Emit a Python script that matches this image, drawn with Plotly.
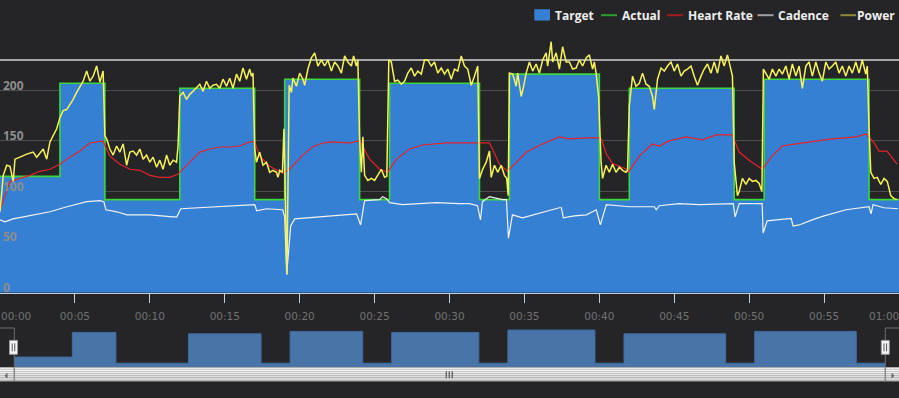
import plotly.graph_objects as go

W, H = 899, 398

# ---------------- data ----------------
series_names = ["Target", "Actual", "Heart Rate", "Cadence", "Power"]

target_sec = [0, 240, 420, 720, 1020, 1140, 1440, 1560, 1920, 2040, 2400, 2520, 2940, 3060, 3480, 3600]
target_watts = [115, 207, 92, 202, 92, 211, 92, 207, 92, 216, 92, 202, 92, 211, 92, 92]

hr_sec = [0, 40, 120, 160, 200, 240, 280, 320, 360, 400, 412, 440, 480, 520, 560, 600, 640, 680, 712,
          760, 800, 840, 880, 920, 960, 1000, 1020, 1040, 1080, 1133, 1160, 1212, 1252, 1280, 1320, 1400,
          1440, 1480, 1520, 1552, 1588, 1640, 1692, 1788, 1960, 1972, 2000, 2032, 2068, 2108, 2172, 2240,
          2280, 2348, 2400, 2408, 2428, 2452, 2480, 2508, 2516, 2560, 2612, 2640, 2680, 2748, 2812, 2868,
          2932, 2960, 3000, 3052, 3092, 3132, 3188, 3252, 3332, 3428, 3468, 3500, 3520, 3552, 3592]
hr_bpm = [82, 110, 116, 120, 122, 127, 134, 140, 148, 149, 150, 135, 127, 122, 121, 116, 114, 114, 117,
          129, 139, 142, 144, 144, 145, 149, 149, 135, 125, 118, 122, 136, 144, 147, 149, 148,
          150, 132, 122, 119, 132, 142, 146, 148, 148, 142, 127, 120, 129, 139, 147, 154,
          152, 153, 153, 152, 137, 128, 125, 122, 119, 135, 147, 145, 150, 154, 151, 156,
          156, 139, 131, 122, 135, 145, 147, 149, 152, 154, 157, 148, 140, 140, 127]

cad_sec = [0, 20, 52, 132, 200, 268, 348, 400, 416, 424, 468, 508, 600, 692, 708, 724, 800, 868, 940,
           1000, 1020, 1028, 1068, 1132, 1140, 1148, 1164, 1180, 1280, 1360, 1428, 1444, 1460, 1520,
           1532, 1548, 1560, 1612, 1700, 1748, 1840, 1880, 1912, 1924, 1932, 1960, 2012, 2028, 2036,
           2052, 2092, 2148, 2240, 2248, 2256, 2300, 2348, 2388, 2404, 2428, 2520, 2620, 2628, 2640,
           2720, 2800, 2880, 2936, 2944, 2960, 3052, 3056, 3072, 3160, 3168, 3176, 3200, 3252, 3300,
           3388, 3468, 3480, 3488, 3496, 3540, 3596]
cad_rpm = [72, 70, 73, 77, 80, 85, 90, 91, 90, 82, 80, 77, 77, 75, 75, 83, 84, 85, 86,
           87, 87, 81, 83, 82, 75, 18, 66, 73, 75, 77, 78, 67, 91, 92,
           95, 93, 89, 87, 88, 89, 88, 88, 86, 72, 90, 95, 92, 92, 54,
           77, 74, 78, 84, 84, 74, 76, 77, 82, 67, 87, 85, 85, 82, 86,
           88, 87, 88, 88, 75, 88, 88, 59, 71, 73.5, 73.5, 66, 67, 72, 76,
           82, 85, 85, 78, 87, 84, 83]

power_sec = [0, 13, 27, 40, 53, 60, 80, 107, 133, 147, 173, 187, 200, 213, 227, 240, 253, 267, 280, 293,
             307, 320, 333, 347, 360, 373, 387, 400, 413, 420, 427, 440, 453, 467, 480, 493, 507, 520,
             533, 547, 560, 573, 587, 600, 613, 627, 640, 653, 667, 680, 693, 707, 713, 720, 733, 747,
             760, 773, 787, 800, 813, 827, 840, 853, 867, 880, 893, 907, 920, 933, 947, 960, 973, 987,
             1000, 1007, 1013, 1020, 1027, 1040, 1053, 1067, 1080, 1093, 1107, 1113, 1120, 1131, 1137,
             1149, 1158, 1167, 1173, 1187, 1200, 1213, 1220, 1233, 1247, 1260, 1273, 1287, 1300, 1313,
             1327, 1340, 1353, 1367, 1380, 1393, 1407, 1416, 1427, 1433, 1440, 1447, 1453, 1460, 1473,
             1487, 1500, 1513, 1527, 1540, 1549, 1557, 1567, 1580, 1593, 1607, 1620, 1633, 1647, 1660,
             1673, 1687, 1700, 1713, 1727, 1740, 1753, 1767, 1780, 1793, 1807, 1820, 1833, 1847, 1860,
             1873, 1887, 1900, 1913, 1920, 1933, 1947, 1960, 1967, 1980, 1993, 2007, 2020, 2029, 2035,
             2040, 2053, 2067, 2073, 2087, 2096, 2107, 2120, 2133, 2147, 2160, 2173, 2187, 2193, 2207,
             2213, 2227, 2240, 2253, 2267, 2280, 2293, 2307, 2320, 2333, 2347, 2360, 2373, 2380, 2387,
             2397, 2407, 2413, 2427, 2440, 2453, 2467, 2480, 2493, 2507, 2513, 2520, 2533, 2547, 2560,
             2573, 2587, 2600, 2613, 2620, 2633, 2647, 2660, 2673, 2687, 2700, 2713, 2727, 2740, 2753,
             2767, 2780, 2793, 2807, 2820, 2833, 2847, 2860, 2873, 2887, 2900, 2913, 2927, 2933, 2940,
             2953, 2960, 2973, 2987, 3000, 3013, 3027, 3040, 3051, 3057, 3067, 3080, 3093, 3107, 3120,
             3133, 3147, 3160, 3173, 3187, 3200, 3213, 3227, 3240, 3253, 3267, 3280, 3293, 3307, 3320,
             3333, 3347, 3360, 3373, 3387, 3400, 3413, 3427, 3440, 3453, 3467, 3473, 3480, 3487, 3500,
             3513, 3527, 3540, 3553, 3567, 3580, 3593]
power_watts = [80, 116, 126, 125, 110, 132, 134, 137, 139, 134, 142, 132, 149, 155, 162, 173, 180, 181, 186, 191,
               198, 203, 209, 219, 209, 214, 224, 208, 219, 155, 152, 142, 136, 145, 139, 147, 126, 139,
               140, 136, 142, 132, 136, 129, 134, 124, 131, 122, 136, 126, 131, 129, 145, 194, 198, 191,
               196, 199, 203, 206, 199, 209, 202, 205, 206, 202, 211, 204, 212, 202, 216, 209, 222, 211,
               221, 214, 217, 142, 129, 139, 126, 129, 119, 121, 119, 114, 121, 119, 162,
               18, 205, 198, 212, 204, 217, 211, 205, 221, 232, 237, 224, 230, 224, 230,
               219, 228, 224, 217, 234, 228, 224, 234, 224, 230, 152, 119, 154, 116, 111,
               113, 111, 116, 122, 114, 115, 230, 228, 209, 210, 206, 209, 217, 222, 214,
               219, 216, 230, 230, 224, 228, 217, 222, 216, 221, 211, 221, 219, 234, 224,
               221, 205, 214, 224, 113, 122, 129, 140, 114, 126, 119, 126, 116, 113, 96,
               217, 216, 204, 217, 194, 203, 217, 228, 219, 226, 217, 230, 237, 224, 248,
               228, 237, 221, 243, 228, 228, 221, 222, 230, 224, 232, 235, 221, 228, 217,
               194, 129, 113, 126, 119, 127, 119, 124, 121, 119, 121, 185, 214, 204, 207,
               217, 206, 204, 194, 181, 211, 222, 219, 224, 228, 219, 226, 214, 219, 221,
               224, 214, 205, 214, 221, 226, 217, 228, 217, 234, 224, 235, 221, 214, 129,
               96, 100, 113, 107, 113, 110, 111, 108, 100, 221, 217, 211, 221, 214, 221,
               216, 224, 211, 226, 214, 224, 202, 224, 228, 214, 228, 217, 209, 228, 221,
               224, 228, 217, 224, 214, 224, 217, 228, 217, 230, 216, 224, 162, 119, 113,
               114, 107, 113, 110, 96, 93, 92]

ftp_watts = 230

x_tick_vals = [0, 300, 600, 900, 1200, 1500, 1800, 2100, 2400, 2700, 3000, 3300, 3600]
x_tick_labels = ["00:00", "00:05", "00:10", "00:15", "00:20", "00:25", "00:30",
                 "00:35", "00:40", "00:45", "00:50", "00:55", "01:00"]
y_tick_vals = [0, 50, 100, 150, 200, 250]
y_tick_labels = ["0", "50", "100", "150", "200", ""]

# ---------------- styling ----------------
BG = "#252528"
C_TARGET = "#3580D3"
C_ACTUAL = "#3DD43D"
C_HR = "#E4232B"
C_CAD = "#F2F2F2"
C_POWER = "#F6F25A"
legend_colors = ["#3580D3", "#2E9E2E", "#A01C1C", "#A0A0A0", "#8E8A3C"]


def px(x):
    return x / W


def py(y):
    return 1 - y / H


fig = go.Figure()

fig.add_trace(go.Scatter(x=target_sec, y=target_watts, name=series_names[0], mode="lines",
                         line=dict(shape="hv", width=0, color=C_TARGET), fill="tozeroy",
                         fillcolor=C_TARGET, showlegend=False, hoverinfo="skip"))
fig.add_trace(go.Scatter(x=target_sec, y=target_watts, name=series_names[1], mode="lines",
                         line=dict(shape="hv", width=1.6, color=C_ACTUAL), showlegend=False,
                         hoverinfo="skip"))
fig.add_trace(go.Scatter(x=hr_sec, y=hr_bpm, name=series_names[2], mode="lines",
                         line=dict(width=1.2, color=C_HR), showlegend=False, hoverinfo="skip"))
fig.add_trace(go.Scatter(x=cad_sec, y=cad_rpm, name=series_names[3], mode="lines",
                         line=dict(width=1.2, color=C_CAD), showlegend=False, hoverinfo="skip"))
fig.add_trace(go.Scatter(x=power_sec, y=power_watts, name=series_names[4], mode="lines",
                         line=dict(width=1.5, color=C_POWER), showlegend=False, hoverinfo="skip"))

# navigator series
fig.add_trace(go.Scatter(x=target_sec, y=target_watts, xaxis="x2", yaxis="y2", mode="lines",
                         line=dict(shape="hv", width=1, color="#3F6C9F"), fill="tozeroy",
                         fillcolor="#4874A7", showlegend=False, hoverinfo="skip"))

shapes = []


def line(x0, y0, x1, y1, color, width=1):
    shapes.append(dict(type="line", xref="paper", yref="paper", x0=px(x0), y0=py(y0),
                       x1=px(x1), y1=py(y1), line=dict(color=color, width=width)))


def rect(x0, y0, x1, y1, fill, lc=None, lw=0):
    shapes.append(dict(type="rect", xref="paper", yref="paper", x0=px(x0), y0=py(y0),
                       x1=px(x1), y1=py(y1), fillcolor=fill,
                       line=dict(color=lc or fill, width=lw)))


# FTP plot line
shapes.append(dict(type="line", xref="paper", yref="y", x0=0, x1=1, y0=ftp_watts, y1=ftp_watts,
                   line=dict(color="#A8A8A8", width=2), layer="below"))

# legend symbols
rect(534.3, 9.3, 550, 20.7, legend_colors[0])
legend_line_x = [(601, 617), (667, 683), (757.5, 773.5), (840.5, 856)]
for (a, b), c in zip(legend_line_x, legend_colors[1:]):
    line(a, 15.3, b, 15.3, c, 2)

# navigator outline
line(0, 330.5, 14.3, 330.5, "#6E6E72", 1)
line(14.3, 330.5, 14.3, 370, "#6E6E72", 1)
line(885.3, 330.5, 899, 330.5, "#6E6E72", 1)
line(885.3, 330.5, 885.3, 370, "#6E6E72", 1)

# scrollbar gradient bands
grad = ["#FBFBFB", "#F5F5F5", "#EEEEEE", "#E7E7E7", "#E0E0E0", "#D9D9D9", "#D2D2D2"]
for i, c in enumerate(grad):
    rect(0, 370 + 2 * i, 899, 372 + 2 * i, c)
line(0, 370.5, 899, 370.5, "#A5A5A5", 1)
line(0, 384, 899, 384, "#8A8A8A", 1)
line(14.3, 370, 14.3, 384, "#8A8A8A", 1.5)
line(885.3, 370, 885.3, 384, "#8A8A8A", 1.5)
shapes.append(dict(type="path", xref="paper", yref="paper",
                   path=f"M {px(7.5)},{py(375.5)} L {px(7.5)},{py(381.5)} L {px(4.5)},{py(378.5)} Z",
                   fillcolor="#666666", line=dict(width=0)))
shapes.append(dict(type="path", xref="paper", yref="paper",
                   path=f"M {px(891.5)},{py(375.5)} L {px(891.5)},{py(381.5)} L {px(894.5)},{py(378.5)} Z",
                   fillcolor="#666666", line=dict(width=0)))
for gx in (446.3, 449.3, 452.3):
    line(gx, 374, gx, 381, "#5E5E5E", 1.3)

# navigator handles
for hx in (13.5, 885.3):
    rect(hx - 4, 343, hx + 4, 357, "#F4F4F4", "#9A9A9A", 1)
    line(hx - 1.3, 346, hx - 1.3, 354, "#555555", 1)
    line(hx + 1.3, 346, hx + 1.3, 354, "#555555", 1)

annotations = []
legend_text_x = [555, 622, 688, 778, 857]
for name, tx in zip(series_names, legend_text_x):
    annotations.append(dict(text=name, x=px(tx - 2), y=py(15.3), xref="paper", yref="paper",
                            xanchor="left", yanchor="middle", showarrow=False,
                            font=dict(family="Open Sans", size=12, color="#EEEEEE", weight="bold")))

tick_font = dict(family="DejaVu Sans", size=10.5, color="#727272")
annotations.append(dict(text=x_tick_labels[0], x=px(-1), y=py(318), xref="paper", yref="paper",
                        xanchor="left", yanchor="middle", showarrow=False, font=tick_font))
annotations.append(dict(text=x_tick_labels[-1], x=px(867), y=py(318), xref="paper", yref="paper",
                        xanchor="left", yanchor="middle", showarrow=False, font=tick_font))

fig.update_layout(
    width=W, height=H, margin=dict(l=0, r=0, t=0, b=0),
    paper_bgcolor=BG, plot_bgcolor=BG, showlegend=False,
    shapes=shapes, annotations=annotations, hovermode=False,
    xaxis=dict(domain=[0, 1], range=[0, 3600], tickvals=x_tick_vals[1:-1], ticktext=x_tick_labels[1:-1],
               ticks="outside", ticklen=9, tickcolor="#C0D0E0", tickwidth=1, showline=True,
               linecolor="#C0D0E0", linewidth=1, showgrid=False, zeroline=False, tickfont=tick_font,
               ticklabelstandoff=5, fixedrange=True, anchor="y"),
    yaxis=dict(domain=[py(295), py(40)], range=[0, 250], tickvals=y_tick_vals, ticktext=y_tick_labels,
               ticklabelposition="inside", ticklabelshift=-5, ticklabeloverflow="allow",
               gridcolor="#4E4E52", gridwidth=1, zeroline=False, showline=False, ticks="",
               tickfont=dict(family="Open Sans", size=12, color="#8E8E8E", weight="bold"),
               fixedrange=True, anchor="x", layer="above traces"),
    xaxis2=dict(domain=[px(14.3), px(885.3)], range=[0, 3600], visible=False, fixedrange=True,
                anchor="y2"),
    yaxis2=dict(domain=[py(370), py(330)], range=[77, 225.5], visible=False, fixedrange=True,
                anchor="x2"),
)

page_fix = (
    "var gd=document.getElementById('{plot_id}');"
    "gd.style.position='fixed';gd.style.left='0px';gd.style.top='0px';"
    "var r=document.documentElement;r.style.margin='0';r.style.padding='0';"
    "r.style.height='398px';r.style.overflow='hidden';r.style.background='#252528';"
    "var b=document.body;b.style.margin='0';b.style.padding='0';b.style.height='398px';"
    "b.style.overflow='hidden';b.style.background='#252528';"
)
fig.write_html("out.html", config={"displayModeBar": False}, post_script=page_fix)
